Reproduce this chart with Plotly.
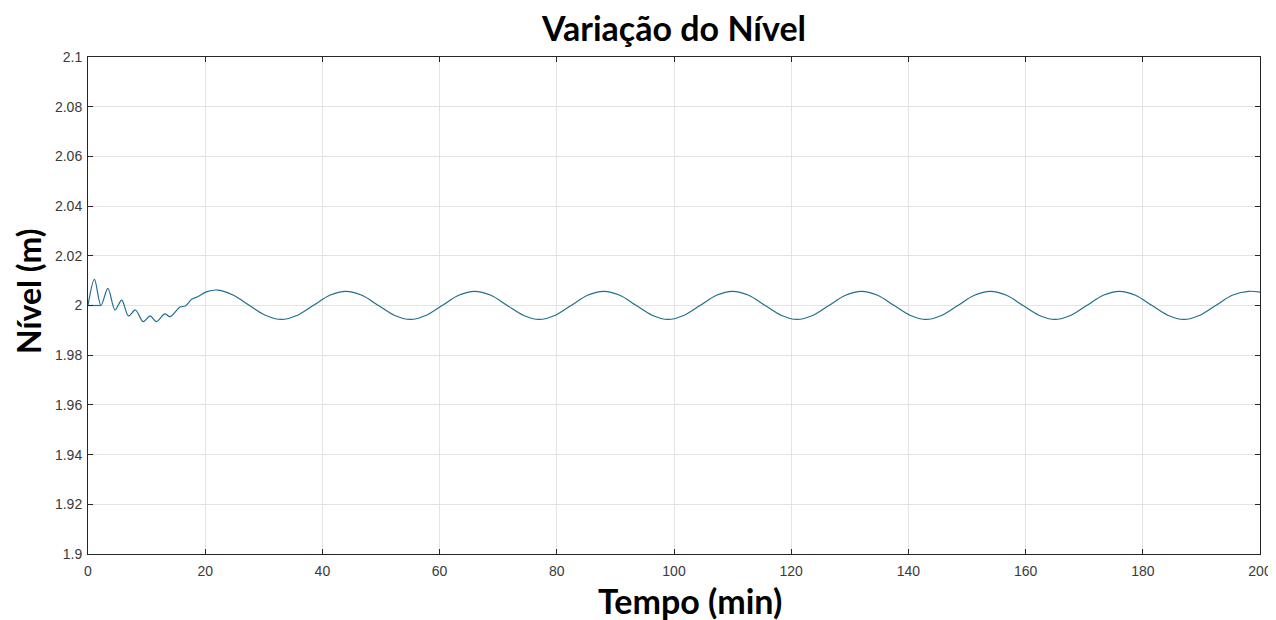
import plotly.graph_objects as go

# Time (min) and level (m)
tempo = [0, 1.1, 2.2, 3.4, 4.6, 5.75, 6.9, 8.1, 9.4, 10.6, 11.7, 13.1, 14.0, 15.7, 16.6,
         17.7, 18.8, 20.3, 22.2,
         24.75, 27.5, 30.25, 33, 35.75, 38.5, 41.25, 44,
         46.75, 49.5, 52.25, 55, 57.75, 60.5, 63.25, 66,
         68.75, 71.5, 74.25, 77, 79.75, 82.5, 85.25, 88,
         90.75, 93.5, 96.25, 99, 101.75, 104.5, 107.25, 110,
         112.75, 115.5, 118.25, 121, 123.75, 126.5, 129.25, 132,
         134.75, 137.5, 140.25, 143, 145.75, 148.5, 151.25, 154,
         156.75, 159.5, 162.25, 165, 167.75, 170.5, 173.25, 176,
         178.75, 181.5, 184.25, 187, 189.75, 192.5, 195.25, 198, 200]
nivel = [2.0, 2.0105, 2.0, 2.0069, 1.9982, 2.0022, 1.9958, 1.9982, 1.9935, 1.9958, 1.9935,
         1.9966, 1.9955, 1.9994, 1.9998, 2.0025, 2.0036, 2.0056, 2.0062,
         2.0042, 2.0001, 1.9961, 1.9944, 1.9961, 2.0001, 2.0041, 2.0057,
         2.0041, 2.0001, 1.9961, 1.9944, 1.9961, 2.0001, 2.0041, 2.0057,
         2.0041, 2.0001, 1.9961, 1.9944, 1.9961, 2.0001, 2.0041, 2.0057,
         2.0041, 2.0001, 1.9961, 1.9944, 1.9961, 2.0001, 2.0041, 2.0057,
         2.0041, 2.0001, 1.9961, 1.9944, 1.9961, 2.0001, 2.0041, 2.0057,
         2.0041, 2.0001, 1.9961, 1.9944, 1.9961, 2.0001, 2.0041, 2.0057,
         2.0041, 2.0001, 1.9961, 1.9944, 1.9961, 2.0001, 2.0041, 2.0057,
         2.0041, 2.0001, 1.9961, 1.9944, 1.9961, 2.0001, 2.0041, 2.0057, 2.0054]

# short initial flat segment at the reference level
tempo_ref = [0, 2.2]
nivel_ref = [2.0, 2.0]

y_ticks = [1.9, 1.92, 1.94, 1.96, 1.98, 2.0, 2.02, 2.04, 2.06, 2.08, 2.1]
y_labels = ["1.9", "1.92", "1.94", "1.96", "1.98", "2", "2.02", "2.04", "2.06", "2.08", "2.1"]
x_ticks = [0, 20, 40, 60, 80, 100, 120, 140, 160, 180, 200]

line_color = "#1f6f8b"
OFF = 8                      # page body margin in the browser
W, H = 1276 - OFF, 620 - OFF
L, R, T, B = 88 - OFF, 16, 57 - OFF, 66
PW, PH = W - L - R, H - T - B
title_font = "Lato, Open Sans, sans-serif"

fig = go.Figure()
fig.add_trace(go.Scatter(x=tempo, y=nivel, mode="lines",
                         line=dict(color=line_color, width=1.2, shape="spline", smoothing=0.9),
                         showlegend=False))
fig.add_trace(go.Scatter(x=tempo_ref, y=nivel_ref, mode="lines",
                         line=dict(color=line_color, width=1.2),
                         showlegend=False))

axis_common = dict(showline=True, linecolor="#262626", linewidth=1, mirror="allticks",
                   ticks="inside", ticklen=5, tickcolor="#262626", automargin=False,
                   showgrid=True, gridcolor="#e3e3e3", gridwidth=1, zeroline=False,
                   tickfont=dict(family="Liberation Sans, Arial, sans-serif", size=14, color="#3a3a3a"))


def px_x(sx):  # screen x -> paper x
    return (sx - OFF - L) / PW


def px_y(sy):  # screen y -> paper y
    return (H - B - (sy - OFF)) / PH


fig.update_layout(
    width=W, height=H,
    margin=dict(l=L, r=R, t=T, b=B, autoexpand=False),
    paper_bgcolor="white", plot_bgcolor="white",
    title=dict(text="<b>Variação do Nível</b>", x=(674 - OFF) / W, xanchor="center",
               y=1 - (29 - OFF) / H, yanchor="middle",
               font=dict(family=title_font, size=34, color="#000000")),
    xaxis=dict(range=[0, 200], tickvals=x_ticks, ticklabelstandoff=4, **axis_common),
    yaxis=dict(range=[1.9, 2.1], tickvals=y_ticks, ticktext=y_labels, ticklabelstandoff=2,
               **axis_common),
    annotations=[
        dict(text="<b>Tempo (min)</b>", xref="paper", yref="paper",
             x=px_x(690), y=px_y(600),
             xanchor="center", yanchor="middle", showarrow=False,
             font=dict(family=title_font, size=34, color="#000000")),
        dict(text="<b>Nível (m)</b>", xref="paper", yref="paper", textangle=-90,
             x=px_x(28), y=px_y(292),
             xanchor="center", yanchor="middle", showarrow=False,
             font=dict(family=title_font, size=32, color="#000000")),
    ],
)

fig.write_html("out.html")
